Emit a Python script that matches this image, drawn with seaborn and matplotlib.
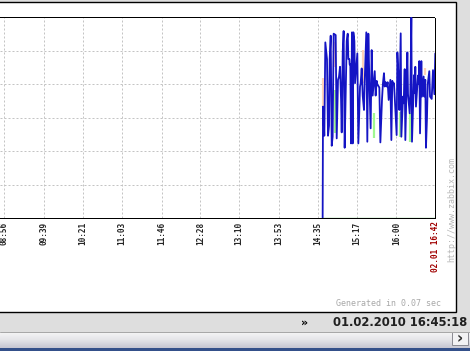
import matplotlib
matplotlib.use("Agg")
import numpy as np
import pandas as pd
import matplotlib.pyplot as plt
import seaborn as sns
from matplotlib.patches import Rectangle
from matplotlib.lines import Line2D
from matplotlib.colors import LinearSegmentedColormap

# ---------------- data ----------------
tick_labels = ["08:56", "09:39", "10:21", "11:03", "11:46", "12:28",
               "13:10", "13:53", "14:35", "15:17", "16:00", "16:42"]
date_label = "02.01"

# average values (time in minutes since midnight, value in grid units)
avg_t = [880.2, 880.6, 882.0, 883.1, 884.9, 886.0, 887.1, 887.8, 888.9, 890.0,
         891.0, 892.1, 894.3, 895.4, 896.8, 897.9, 899.0, 900.1, 900.8, 901.9,
         902.9, 904.0, 905.1, 906.2, 907.3, 908.0, 909.1, 909.4, 910.1, 910.9,
         911.9, 912.7, 913.4, 914.5, 915.2, 917.7, 918.8, 920.6, 921.3, 922.4,
         923.5, 924.9, 925.6, 927.4, 928.5, 929.6, 930.7, 932.1, 933.2, 934.3,
         936.5, 937.5, 938.6, 939.3, 941.5, 942.6, 944.4, 945.4, 946.5, 947.3,
         948.3, 949.4, 950.5, 951.6, 953.4, 954.5, 955.5, 956.3, 957.3, 958.1,
         960.2, 961.0, 962.4, 963.1, 964.6, 965.3, 967.1, 967.8, 968.9, 969.6,
         971.8, 972.5, 974.3, 975.0, 976.1, 976.8, 979.0, 979.7, 980.4, 981.1,
         983.3, 984.0, 984.7, 985.5, 986.9, 987.6, 989.4, 990.1, 991.2, 991.9,
         993.0, 993.8, 995.5, 996.3, 998.1, 999.5, 1001.0, 1002.0]
avg_v = [0.00, 3.33, 2.46, 5.25, 4.75, 2.46, 2.76, 4.75, 5.45, 2.16,
         2.43, 5.51, 5.47, 2.38, 4.13, 4.23, 4.52, 3.53, 2.56, 4.97,
         5.59, 2.10, 3.70, 5.29, 5.51, 4.75, 4.75, 4.59, 4.59, 2.23,
         5.55, 2.23, 5.55, 5.29, 4.03, 4.92, 2.23, 3.93, 4.03, 4.47,
         3.66, 3.23, 4.03, 5.55, 2.28, 5.51, 4.10, 2.68, 5.02, 3.66,
         4.39, 3.66, 4.10, 4.00, 3.90, 2.26, 3.56, 4.03, 4.33, 3.93,
         4.06, 3.93, 4.06, 3.53, 4.13, 2.33, 4.10, 4.00, 4.03, 3.63,
         2.48, 4.95, 4.10, 3.23, 5.52, 2.43, 3.63, 3.43, 4.45, 2.33,
         4.95, 3.70, 3.13, 3.73, 5.99, 2.28, 4.27, 3.73, 4.52, 3.33,
         4.26, 4.00, 4.69, 2.53, 4.69, 3.63, 4.23, 3.63, 4.13, 2.10,
         2.98, 4.00, 4.39, 3.63, 3.56, 4.42, 3.70, 4.92]

# second item (flat at zero)
zero_t = [880.2, 1002.0]
zero_v = [0.0, 0.0]

# min / max excursions beyond the average
min_t = [881.3, 893.6, 935.4, 963.5, 974.3]
min_lo = [2.53, 2.53, 2.38, 2.43, 2.28]
min_hi = [3.33, 3.83, 3.13, 3.18, 3.13]
max_t = [880.6, 893.6, 923.5, 990.5]
max_lo = [3.33, 4.52, 4.03, 4.27]
max_hi = [4.18, 5.27, 5.02, 4.47]

footer_date = "01.02.2010 16:45:18"

# ---------------- figure ----------------
W, H = 470, 351
sns.set_style("white")
plt.rcParams["lines.scale_dashes"] = False
fig = plt.figure(figsize=(W / 100, H / 100), dpi=100)
fig.patch.set_facecolor("#dedede")

def fx(x):
    return x / W

def fy(y):
    return 1 - y / H

PX = 0.72  # one pixel in points

# white panel with black border
fig.add_artist(Rectangle((fx(-5), fy(311.5)), fx(456 + 5), (311.5 - 1.5) / H,
                         transform=fig.transFigure, facecolor="white",
                         edgecolor="black", lw=1.0, zorder=0))

# separator line above scrollbar
fig.add_artist(Line2D([0, 1], [fy(331.5), fy(331.5)], transform=fig.transFigure,
                      color="#a8a8a8", lw=PX))

# scrollbar gradient
sax = fig.add_axes([0, fy(348), 1, 16 / H])
grad = np.linspace(0, 1, 64).reshape(-1, 1)
cm = LinearSegmentedColormap.from_list("sb", ["#f6f6f6", "#e4e4e8", "#c6c6d2"])
sax.imshow(grad, aspect="auto", cmap=cm, extent=[0, 1, 0, 1], origin="upper")
sax.set_axis_off()
# dark blue strip
fig.add_artist(Rectangle((0, 0), 1, (351 - 348) / H, transform=fig.transFigure,
                         facecolor="#34508a", edgecolor="none"))
# scroll button
fig.add_artist(Rectangle((fx(452), fy(345)), fx(16), 13 / H, transform=fig.transFigure,
                         facecolor="#f2f2f4", edgecolor="#8c8c94", lw=PX))
fig.text(fx(460), fy(338.5), "›", fontsize=11, fontweight="bold", color="#303030",
         ha="center", va="center", family="DejaVu Sans")

# footer text
fig.text(fx(305), fy(323), "»", fontsize=8, fontweight="bold", color="black",
         ha="center", va="center", family="DejaVu Sans")
fig.text(fx(333), fy(322), footer_date, fontsize=8.4, fontweight="bold",
         color="#202020", ha="left", va="center", family="DejaVu Sans")

# main plot area
ax = fig.add_axes([0, fy(218), fx(435.3), (218 - 17.3) / H])
ax.set_facecolor("none")

tick_pos = [int(s[:2]) * 60 + int(s[3:]) for s in tick_labels]
left_lim = tick_pos[0] - 4.3 * (tick_pos[-1] - tick_pos[0]) / (435.3 - 4.3)
ax.set_xlim(left_lim, tick_pos[-1])
ax.set_ylim(0, 6)

ax.vlines(max_t, max_lo, max_hi, color="#ffd2b8", lw=2.2 * PX, zorder=2.2)
ax.vlines(min_t, min_lo, min_hi, color="#a0f890", lw=2.2 * PX, zorder=2.2)

avg_df = pd.DataFrame({"t": avg_t, "v": avg_v})
sns.lineplot(data=avg_df, x="t", y="v", sort=False, estimator=None,
             color="#1414c4", lw=1.8 * PX, ax=ax, zorder=3)
zero_df = pd.DataFrame({"t": zero_t, "v": zero_v})
sns.lineplot(data=zero_df, x="t", y="v", sort=False, estimator=None,
             color="#00a000", lw=1.2 * PX, ax=ax, zorder=3.5)

ax.set_xlabel("")
ax.set_ylabel("")
ax.set_yticks(range(0, 7))
ax.set_yticklabels([])
ax.set_xticks(tick_pos)
labels = list(tick_labels)
labels[-1] = date_label + " " + tick_labels[-1]
ax.set_xticklabels(labels, rotation=90, family="DejaVu Sans Mono", fontsize=5.6,
                   fontweight="bold")
ax.get_xticklabels()[-1].set_color("#a00000")
ax.tick_params(axis="both", length=0, pad=2.6)
ax.grid(True, color="#c4c4c4", lw=PX, linestyle=(0, (1.44, 1.44)))
ax.set_axisbelow(True)
ax.spines["left"].set_visible(False)
for s in ["top", "right", "bottom"]:
    ax.spines[s].set_visible(True)
    ax.spines[s].set_color("black")
    ax.spines[s].set_linewidth(PX)
    ax.spines[s].set_linestyle((0, (1.44, 0.72)))
    ax.spines[s].set_zorder(2.5)

# watermark texts
fig.text(fx(451.5), fy(262), "http://www.zabbix.com", rotation=90,
         family="DejaVu Sans Mono", fontsize=6, color="#b8b8b8",
         ha="center", va="bottom")
fig.text(fx(441), fy(304), "Generated in 0.07 sec", family="DejaVu Sans Mono",
         fontsize=6, color="#a8a8a8", ha="right", va="center")

fig.savefig("out.png", dpi=100)
